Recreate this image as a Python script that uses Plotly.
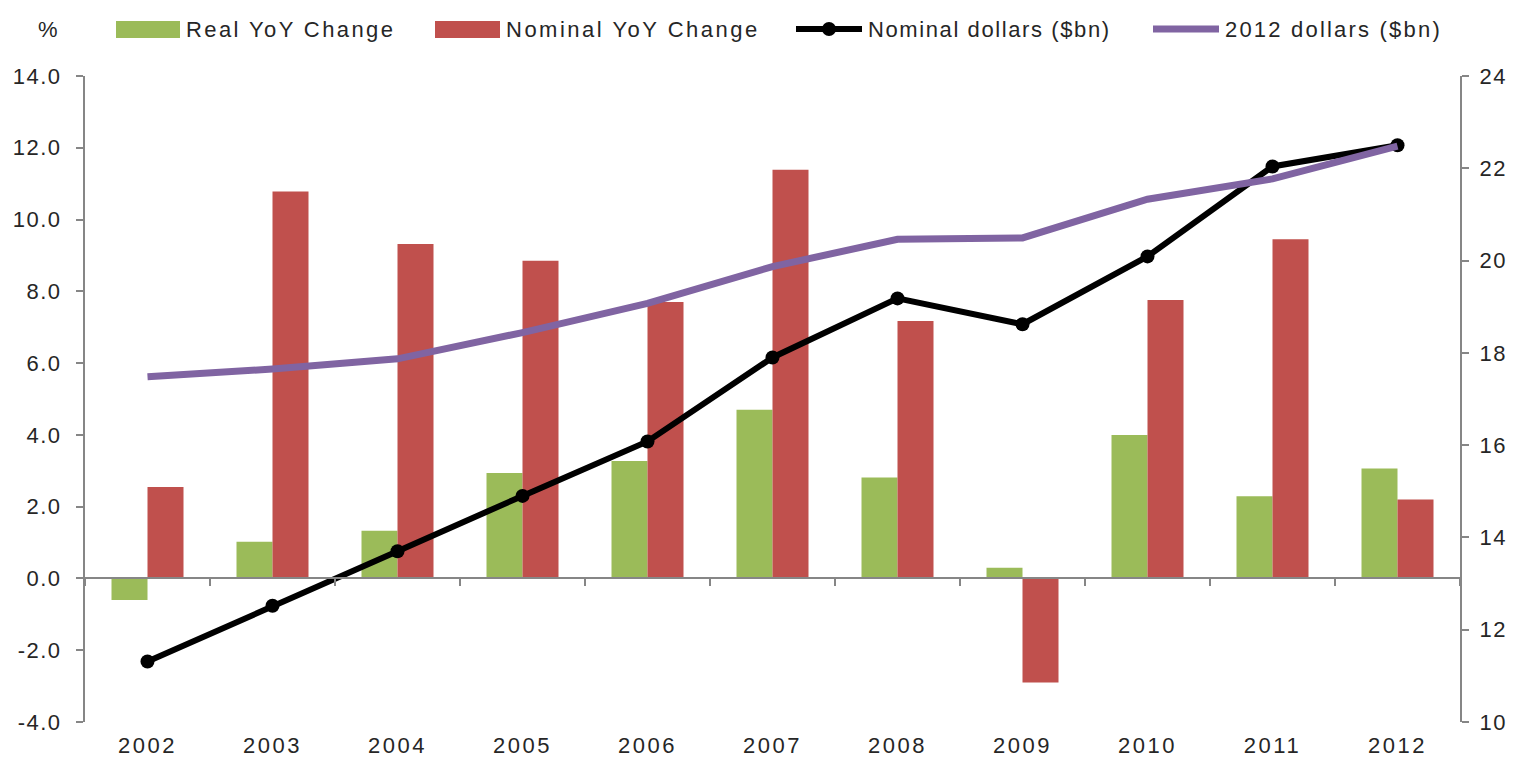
import plotly.graph_objects as go

years = ["2002", "2003", "2004", "2005", "2006", "2007", "2008", "2009", "2010", "2011", "2012"]
real_yoy = [-0.6, 1.02, 1.33, 2.94, 3.27, 4.70, 2.81, 0.30, 4.00, 2.29, 3.06]
nominal_yoy = [2.55, 10.78, 9.32, 8.85, 7.70, 11.39, 7.17, -2.90, 7.76, 9.45, 2.20]
nominal_dollars = [11.31, 12.52, 13.70, 14.90, 16.08, 17.90, 19.18, 18.62, 20.09, 22.04, 22.50]
dollars_2012 = [17.48, 17.65, 17.87, 18.44, 19.07, 19.87, 20.46, 20.49, 21.33, 21.77, 22.48]

left_ticks = [-4, -2, 0, 2, 4, 6, 8, 10, 12, 14]
right_ticks = [10, 12, 14, 16, 18, 20, 22, 24]

series_names = ["Real YoY Change", "Nominal YoY Change", "Nominal dollars ($bn)", "2012 dollars ($bn)"]
series_colors = ["#9BBB59", "#C0504D", "#000000", "#8064A2"]

FONT = "Liberation Sans, Arial, sans-serif"
AXIS_GREY = "#868686"
TEXT = "#262626"

# page body has an 8px default margin; size the figure so the plot lands where intended
OFF = 8
W, H = 1523 - OFF, 766 - OFF
ML, MR, MT, MB = 85 - OFF, 63, 76 - OFF, 44
PW, PH = W - ML - MR, H - MT - MB


def px_x(px):
    # px in window coordinates
    return (px - OFF - ML) / PW


def px_y(py):
    return (H - MB - (py - OFF)) / PH


def spaced(text, sp):
    return '<span style="letter-spacing:%.1fpx">%s</span>' % (sp, text)


fig = go.Figure()
fig.add_trace(go.Bar(x=years, y=real_yoy, name=series_names[0],
                     marker=dict(color=series_colors[0], line=dict(width=0))))
fig.add_trace(go.Bar(x=years, y=nominal_yoy, name=series_names[1],
                     marker=dict(color=series_colors[1], line=dict(width=0))))
fig.add_trace(go.Scatter(x=years, y=nominal_dollars, name=series_names[2], yaxis="y2",
                         mode="lines+markers", line=dict(color=series_colors[2], width=6),
                         marker=dict(symbol="circle", size=14, color=series_colors[2])))
fig.add_trace(go.Scatter(x=years, y=dollars_2012, name=series_names[3], yaxis="y2",
                         mode="lines", line=dict(color=series_colors[3], width=7)))
# helper trace so the category tick marks can be drawn along the zero line
fig.add_trace(go.Scatter(x=years, y=[None] * len(years), xaxis="x2", showlegend=False,
                         hoverinfo="skip", mode="lines"))

zero_pos = (0 - (-4)) / 18.0

# custom legend (layout decoration)
legend_y = 29
shapes = []
annotations = []
sw_left = [116, 435, 796, 1153]
sw_right = [180, 500, 862, 1219]
spacing = [2.4, 2.5, 1.6, 2.2]
for i, name in enumerate(series_names):
    x0, x1 = px_x(sw_left[i]), px_x(sw_right[i])
    if i < 2:
        shapes.append(dict(type="rect", xref="paper", yref="paper", x0=x0, x1=x1,
                           y0=px_y(38), y1=px_y(21), fillcolor=series_colors[i],
                           line=dict(width=0), layer="above"))
    else:
        shapes.append(dict(type="line", xref="paper", yref="paper", x0=x0, x1=x1,
                           y0=px_y(legend_y), y1=px_y(legend_y),
                           line=dict(color=series_colors[i], width=6 if i == 2 else 7), layer="above"))
        if i == 2:
            cx = (sw_left[i] + sw_right[i]) / 2
            shapes.append(dict(type="circle", xref="paper", yref="paper",
                               x0=px_x(cx - 7), x1=px_x(cx + 7),
                               y0=px_y(legend_y + 7), y1=px_y(legend_y - 7),
                               fillcolor=series_colors[i], line=dict(width=0), layer="above"))
    annotations.append(dict(text=spaced(name, spacing[i]),
                            xref="paper", yref="paper", x=px_x(sw_right[i] + 4), y=px_y(legend_y),
                            xanchor="left", yanchor="middle", showarrow=False,
                            font=dict(size=22, color=TEXT, family=FONT)))
annotations.append(dict(text="%", xref="paper", yref="paper", x=px_x(48), y=px_y(legend_y),
                        xanchor="center", yanchor="middle", showarrow=False,
                        font=dict(size=22, color=TEXT, family=FONT)))

left_text = [spaced("%.1f" % v, 1.5) for v in left_ticks]
right_text = [spaced("%d" % v, 1.5) for v in right_ticks]
year_text = [spaced(y, 2.5) for y in years]

fig.update_layout(
    width=W, height=H,
    margin=dict(l=ML, r=MR, t=MT, b=MB, autoexpand=False),
    paper_bgcolor="white", plot_bgcolor="white",
    font=dict(family=FONT, size=22, color=TEXT),
    barmode="group", bargap=0.424, bargroupgap=0.0,
    showlegend=False,
    xaxis=dict(type="category", range=[-0.5, 10.5], showline=False, ticks="", automargin=False,
               tickmode="array", tickvals=years, ticktext=year_text,
               showgrid=False, tickfont=dict(size=22, color=TEXT), ticklabelstandoff=8),
    xaxis2=dict(type="category", overlaying="x", anchor="free", position=zero_pos, automargin=False,
                matches="x", range=[-0.5, 10.5], showline=True, linecolor=AXIS_GREY, linewidth=2,
                ticks="outside", tickson="boundaries", ticklen=7, tickwidth=2, tickcolor=AXIS_GREY,
                showticklabels=False, showgrid=False, side="bottom"),
    yaxis=dict(range=[-4, 14], tickmode="array", tickvals=left_ticks, ticktext=left_text,
               automargin=False,
               showgrid=False, zeroline=False, showline=True, linecolor=AXIS_GREY, linewidth=2,
               ticks="outside", ticklen=7, tickwidth=2, tickcolor=AXIS_GREY,
               tickfont=dict(size=22, color=TEXT), ticklabelstandoff=10),
    yaxis2=dict(range=[10, 24], tickmode="array", tickvals=right_ticks, ticktext=right_text,
                overlaying="y", side="right", automargin=False,
                showgrid=False, zeroline=False, showline=True, linecolor=AXIS_GREY, linewidth=2,
                ticks="outside", ticklen=7, tickwidth=2, tickcolor=AXIS_GREY,
                tickfont=dict(size=22, color=TEXT), ticklabelstandoff=6),
    shapes=shapes,
    annotations=annotations,
)

fig.write_html("out.html")
